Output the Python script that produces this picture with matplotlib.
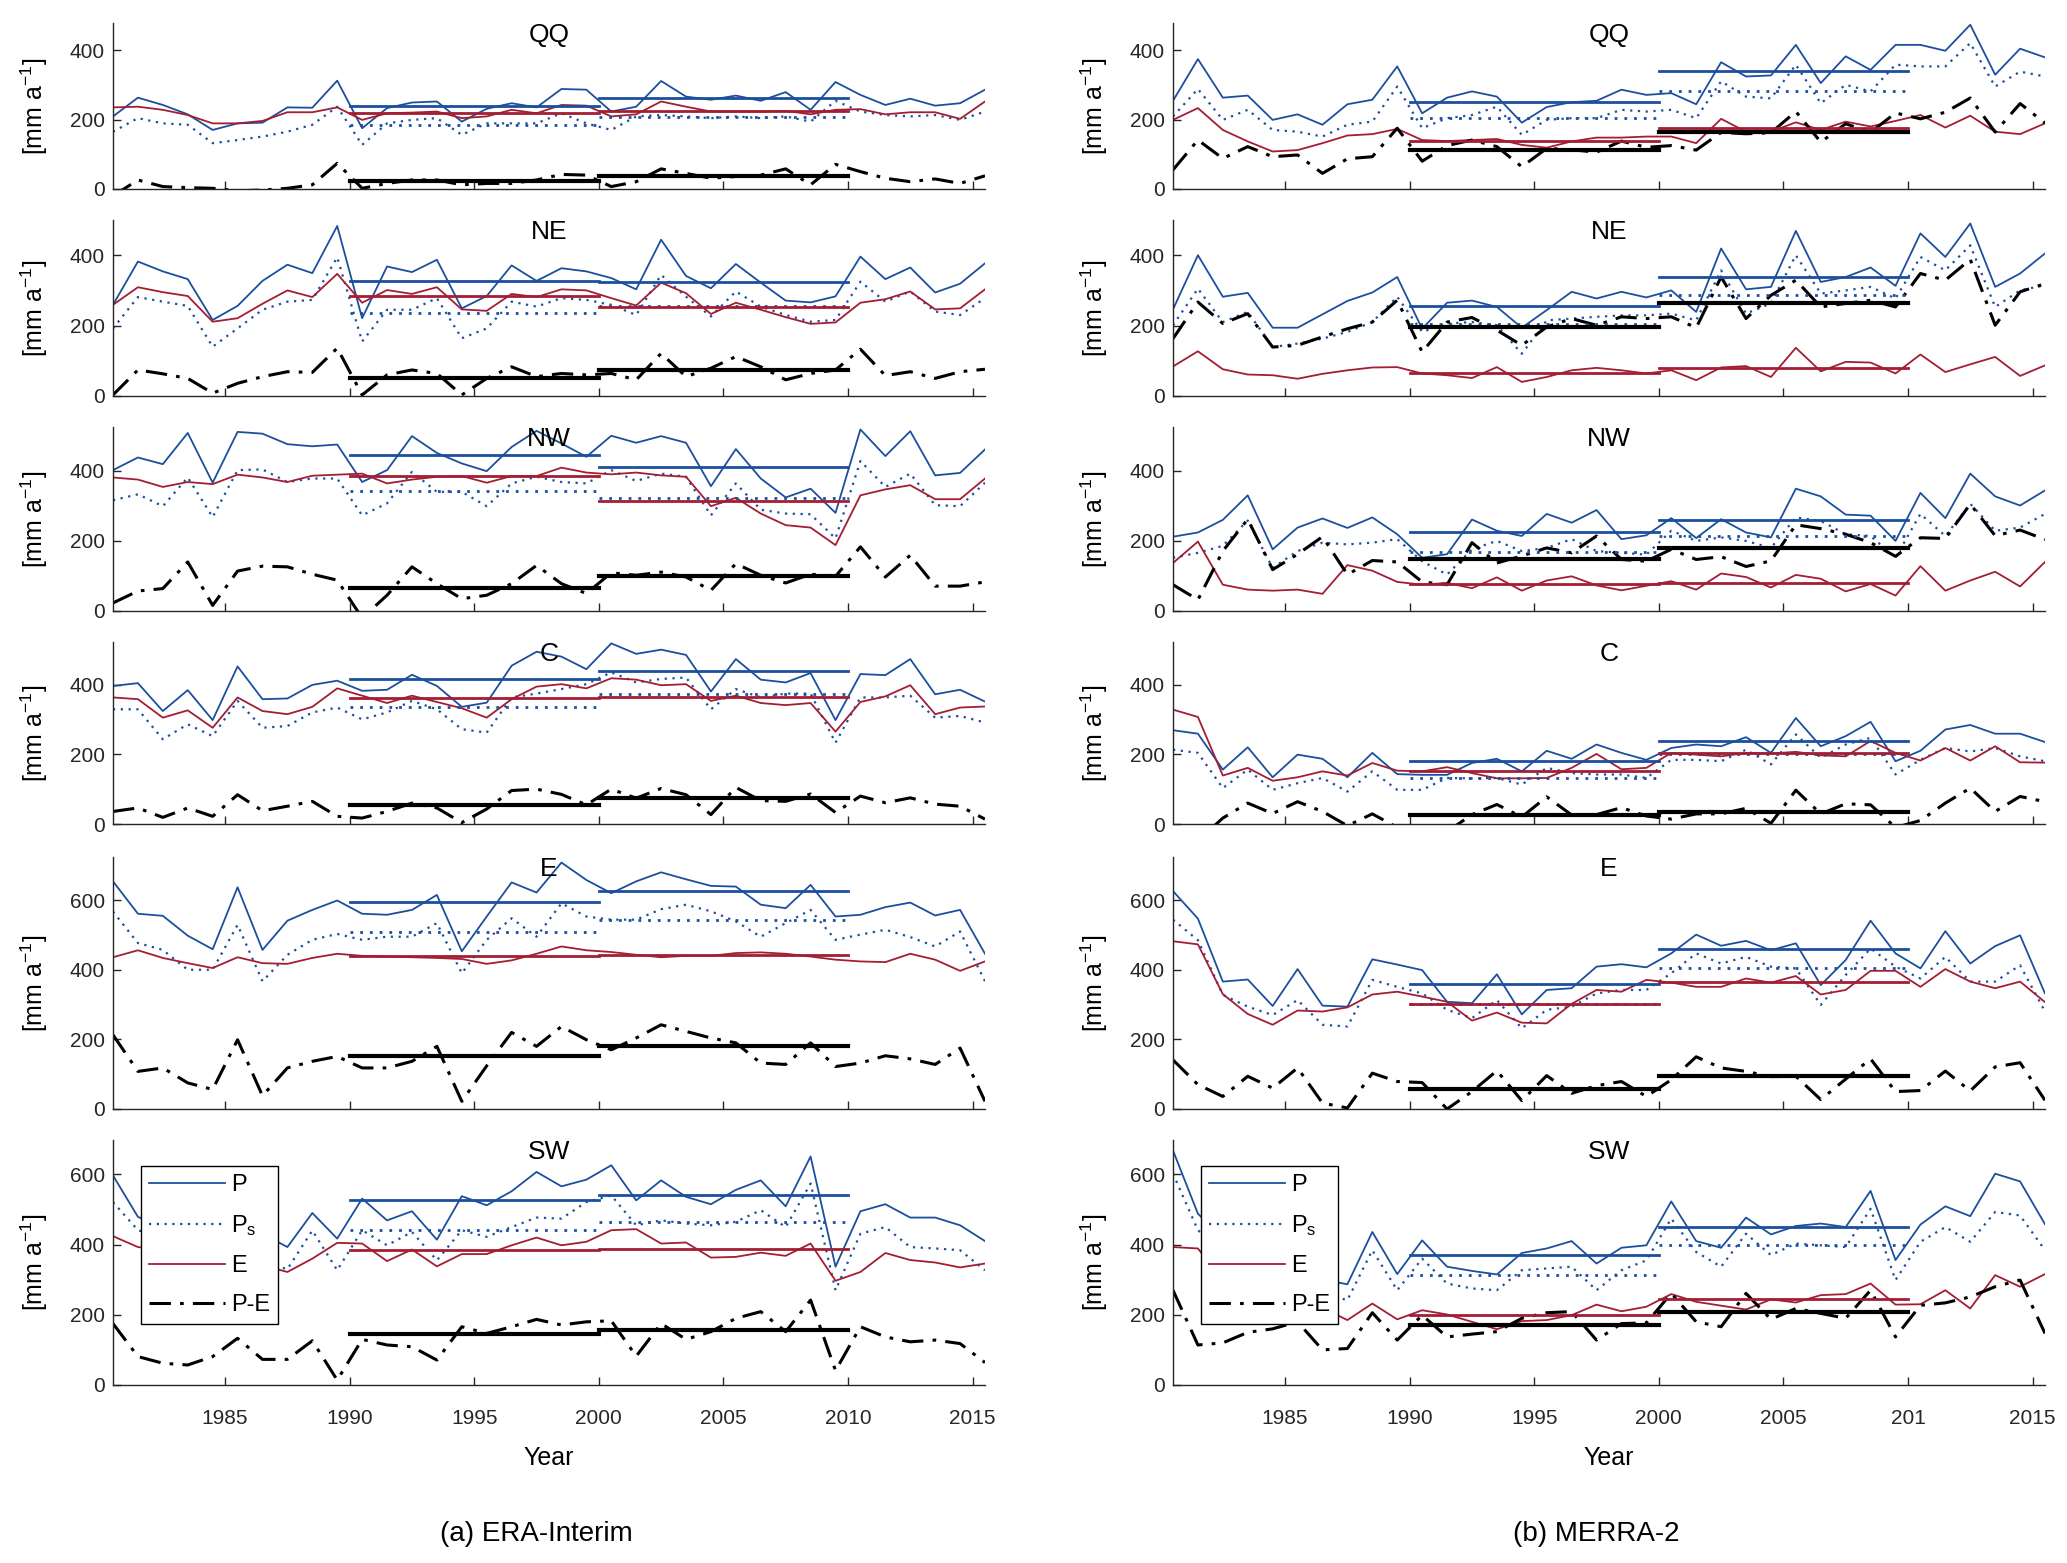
import numpy as np
import matplotlib.pyplot as plt

plt.rcParams['font.family'] = ['Liberation Sans', 'DejaVu Sans']
plt.rcParams['mathtext.default'] = 'regular'

YEARS = np.arange(1980, 2016)
REGIONS = ['QQ', 'NE', 'NW', 'C', 'E', 'SW']
Y_TOP = [478, 500, 525, 522, 724, 698]
X_TICKS = [1985, 1990, 1995, 2000, 2005, 2010, 2015]
X_LABELS_ERA = ['1985', '1990', '1995', '2000', '2005', '2010', '2015']
X_LABELS_MERRA = ['1985', '1990', '1995', '2000', '2005', '201', '2015']
PANEL_TITLES = ['(a) ERA-Interim', '(b) MERRA-2']

# ---- ERA-Interim (1980-2015), mm/a ----
ERA_QQ_P = [209, 263, 242, 215, 170, 189, 191, 235, 234, 312, 175, 233, 249, 252, 194, 231, 247, 235, 288, 286,
            223, 237, 311, 266, 257, 269, 254, 279, 228, 308, 271, 242, 260, 240, 247, 286]
ERA_QQ_PS = [165, 204, 189, 185, 132, 141, 151, 165, 185, 237, 127, 189, 199, 204, 156, 189, 189, 189, 218, 189,
             170, 209, 213, 209, 204, 209, 204, 209, 194, 254, 223, 213, 209, 213, 199, 223]
ERA_QQ_E = [235, 237, 228, 213, 189, 189, 196, 221, 221, 235, 199, 218, 220, 223, 204, 209, 228, 218, 242, 240,
            209, 215, 252, 237, 223, 223, 223, 225, 215, 228, 230, 215, 221, 221, 202, 252]
ERA_QQ_PE = [-20, 26, 7, 4, 2, -5, -3, 2, 12, 74, 2, 16, 26, 26, 12, 16, 16, 26, 42, 40,
             7, 21, 58, 45, 31, 36, 40, 58, 12, 71, 50, 31, 21, 29, 16, 38]

ERA_NE_P = [259, 382, 354, 332, 216, 256, 327, 373, 349, 483, 221, 368, 352, 387, 249, 284, 371, 327, 363, 354,
            335, 303, 444, 341, 306, 375, 322, 271, 266, 283, 396, 332, 365, 294, 319, 377]
ERA_NE_PS = [192, 281, 268, 256, 140, 192, 245, 268, 273, 394, 155, 245, 245, 278, 164, 192, 268, 254, 278, 273,
             259, 230, 344, 282, 226, 297, 254, 230, 211, 216, 325, 268, 297, 240, 230, 278]
ERA_NE_E = [259, 309, 295, 284, 211, 221, 262, 300, 281, 347, 265, 301, 290, 309, 246, 242, 290, 281, 303, 300,
            278, 257, 322, 292, 233, 265, 245, 224, 205, 209, 265, 275, 297, 246, 249, 303]
ERA_NE_PE = [3, 74, 63, 50, 8, 36, 55, 69, 67, 136, 3, 60, 74, 64, 3, 50, 83, 55, 64, 60,
             64, 46, 121, 55, 79, 112, 83, 46, 64, 74, 133, 58, 69, 50, 69, 76]

ERA_NW_P = [402, 438, 419, 508, 366, 511, 506, 476, 470, 475, 368, 402, 499, 451, 421, 399, 468, 514, 478, 440,
            500, 480, 499, 480, 356, 462, 378, 324, 349, 280, 518, 442, 513, 387, 394, 461]
ERA_NW_PS = [316, 333, 299, 381, 268, 402, 404, 368, 378, 378, 273, 307, 397, 340, 340, 299, 364, 383, 368, 364,
             402, 371, 392, 383, 273, 364, 289, 278, 276, 207, 428, 354, 392, 302, 299, 366]
ERA_NW_E = [381, 375, 354, 368, 362, 389, 381, 368, 386, 389, 392, 364, 375, 383, 385, 366, 385, 385, 409, 395,
            390, 395, 387, 383, 299, 323, 278, 245, 238, 188, 330, 347, 359, 319, 319, 378]
ERA_NW_PE = [23, 57, 64, 140, 16, 114, 128, 126, 105, 88, -20, 45, 126, 78, 35, 45, 78, 130, 78, 50,
             109, 102, 111, 97, 59, 135, 102, 80, 105, 99, 183, 97, 159, 71, 71, 83]

ERA_C_P = [396, 404, 324, 384, 298, 452, 358, 360, 399, 411, 382, 385, 428, 396, 336, 348, 454, 494, 480, 444,
           518, 488, 500, 485, 380, 473, 414, 406, 433, 298, 430, 427, 473, 372, 385, 351]
ERA_C_PS = [329, 329, 243, 286, 252, 353, 276, 281, 320, 334, 300, 320, 353, 329, 272, 262, 363, 374, 387, 401,
            435, 406, 416, 420, 329, 387, 363, 374, 374, 233, 363, 363, 368, 305, 310, 291]
ERA_C_E = [363, 358, 305, 326, 276, 363, 324, 315, 336, 389, 368, 347, 368, 350, 332, 305, 358, 394, 401, 389,
           418, 414, 398, 401, 353, 368, 347, 341, 347, 265, 350, 366, 398, 315, 334, 337]
ERA_C_PE = [36, 46, 19, 46, 22, 84, 38, 51, 65, 22, 17, 36, 60, 46, 4, 43, 96, 100, 85, 55,
            100, 74, 102, 84, 27, 105, 67, 65, 86, 33, 80, 61, 75, 57, 51, 14]

ERA_E_P = [654, 561, 555, 498, 459, 637, 457, 541, 572, 599, 561, 558, 572, 615, 453, 553, 651, 622, 708, 658,
           620, 654, 680, 660, 641, 639, 587, 577, 644, 553, 558, 580, 593, 556, 572, 446]
ERA_E_PS = [567, 477, 457, 400, 400, 529, 367, 443, 486, 503, 486, 495, 495, 534, 390, 486, 548, 495, 591, 553,
            544, 544, 574, 587, 568, 539, 495, 534, 572, 486, 501, 515, 494, 467, 510, 367]
ERA_E_E = [436, 456, 434, 419, 405, 436, 419, 417, 434, 446, 440, 438, 436, 434, 431, 417, 427, 446, 467, 456,
           451, 443, 436, 440, 440, 448, 450, 446, 438, 429, 424, 422, 446, 429, 397, 424]
ERA_E_PE = [213, 108, 118, 75, 56, 199, 38, 118, 137, 151, 118, 118, 137, 180, 22, 124, 220, 180, 237, 199,
            170, 204, 242, 223, 204, 190, 132, 128, 190, 122, 132, 153, 144, 128, 175, 22]

ERA_SW_P = [597, 479, 450, 420, 470, 440, 431, 393, 490, 417, 531, 469, 495, 414, 538, 512, 552, 607, 566, 585,
            626, 526, 583, 536, 515, 556, 583, 509, 651, 337, 495, 515, 477, 477, 455, 410]
ERA_SW_PS = [521, 441, 420, 390, 420, 380, 350, 330, 440, 327, 441, 398, 436, 355, 441, 422, 450, 477, 474, 521,
             540, 455, 469, 460, 455, 465, 498, 450, 574, 270, 431, 450, 393, 389, 384, 327]
ERA_SW_E = [424, 393, 385, 375, 360, 380, 341, 322, 360, 405, 403, 353, 386, 338, 373, 373, 398, 420, 398, 408,
            441, 444, 403, 406, 363, 365, 377, 368, 403, 297, 322, 376, 356, 349, 335, 346]
ERA_SW_PE = [175, 81, 62, 57, 81, 133, 73, 73, 126, 14, 130, 114, 109, 71, 166, 147, 166, 187, 171, 180,
             183, 82, 175, 130, 152, 190, 209, 152, 242, 41, 166, 137, 123, 128, 118, 64]

# ---- MERRA-2 (1980-2015), mm/a ----
MERRA_QQ_P = [254, 374, 263, 269, 199, 215, 185, 244, 257, 353, 218, 263, 281, 266, 191, 236, 250, 254, 286, 271,
              276, 244, 365, 324, 327, 415, 305, 382, 343, 415, 415, 398, 473, 329, 404, 379]
MERRA_QQ_PS = [209, 288, 199, 228, 170, 165, 151, 185, 194, 295, 175, 204, 213, 237, 156, 199, 204, 204, 228, 223,
               228, 204, 310, 266, 261, 358, 247, 300, 281, 358, 353, 353, 420, 295, 338, 324]
MERRA_QQ_E = [199, 233, 170, 137, 108, 112, 132, 154, 158, 173, 141, 138, 141, 144, 127, 119, 137, 148, 148, 151,
              151, 132, 202, 165, 165, 192, 170, 194, 180, 196, 213, 177, 211, 165, 158, 189]
MERRA_QQ_PE = [55, 141, 88, 122, 93, 98, 45, 87, 93, 175, 80, 125, 141, 122, 64, 117, 113, 106, 138, 120,
               125, 112, 163, 159, 162, 223, 135, 188, 163, 219, 202, 221, 262, 164, 246, 190]

MERRA_NE_P = [246, 400, 282, 293, 194, 194, 232, 270, 294, 338, 191, 265, 271, 253, 194, 244, 296, 277, 296, 280,
              300, 239, 419, 303, 310, 469, 324, 338, 365, 313, 462, 395, 490, 310, 348, 405]
MERRA_NE_PS = [201, 305, 210, 239, 139, 149, 163, 182, 210, 282, 182, 206, 210, 201, 120, 215, 220, 225, 229, 229,
               234, 215, 357, 234, 263, 400, 291, 300, 310, 277, 395, 357, 428, 253, 300, 315]
MERRA_NE_E = [84, 127, 76, 61, 59, 49, 63, 73, 81, 82, 64, 59, 51, 82, 40, 54, 73, 80, 73, 64,
              73, 45, 81, 85, 54, 137, 70, 97, 95, 64, 118, 68, 90, 111, 57, 87]
MERRA_NE_PE = [163, 267, 206, 234, 139, 144, 168, 191, 210, 272, 125, 210, 223, 187, 144, 196, 220, 201, 225, 220,
               225, 194, 338, 220, 286, 329, 253, 263, 272, 253, 348, 329, 388, 201, 296, 319]

MERRA_NW_P = [212, 224, 260, 330, 176, 238, 264, 237, 267, 219, 152, 162, 261, 229, 214, 277, 252, 288, 205, 216,
              265, 208, 262, 224, 210, 349, 327, 275, 272, 200, 337, 265, 392, 327, 301, 344]
MERRA_NW_PS = [152, 166, 186, 258, 123, 171, 195, 190, 195, 205, 142, 104, 176, 200, 171, 180, 205, 171, 166, 161,
               229, 200, 210, 200, 180, 267, 257, 219, 214, 152, 277, 214, 306, 229, 238, 277]
MERRA_NW_E = [137, 198, 75, 61, 58, 61, 49, 131, 115, 83, 75, 80, 65, 96, 58, 87, 99, 73, 59, 72,
              85, 61, 107, 97, 67, 103, 92, 56, 77, 44, 128, 58, 87, 112, 70, 140]
MERRA_NW_PE = [75, 32, 171, 262, 118, 162, 212, 104, 144, 140, 83, 75, 195, 137, 157, 180, 166, 214, 147, 142,
               176, 147, 155, 127, 143, 246, 235, 219, 195, 156, 209, 207, 305, 215, 231, 204]

MERRA_C_P = [269, 259, 156, 220, 134, 199, 187, 134, 204, 143, 141, 141, 175, 187, 151, 210, 187, 228, 204, 184,
             218, 228, 223, 249, 204, 304, 223, 252, 293, 180, 210, 271, 284, 259, 259, 235]
MERRA_C_PS = [213, 204, 103, 156, 98, 117, 132, 93, 151, 98, 98, 132, 131, 132, 113, 161, 146, 142, 142, 132,
              184, 184, 180, 213, 171, 257, 190, 228, 247, 142, 184, 218, 208, 218, 194, 180]
MERRA_C_E = [328, 307, 139, 161, 124, 134, 151, 139, 175, 153, 151, 163, 146, 131, 131, 132, 161, 201, 157, 161,
             204, 199, 194, 204, 202, 207, 197, 194, 238, 204, 182, 218, 182, 223, 177, 176]
MERRA_C_PE = [-60, -48, 17, 60, 30, 64, 36, -5, 29, -10, -10, -22, 27, 56, 20, 78, 26, 27, 47, 23,
              14, 29, 29, 45, 2, 97, 29, 58, 55, -10, 10, 60, 103, 36, 79, 64]

MERRA_E_P = [626, 547, 366, 372, 296, 402, 297, 294, 430, 415, 399, 308, 304, 387, 272, 342, 347, 409, 416, 407,
             447, 501, 469, 483, 456, 476, 356, 428, 541, 447, 404, 511, 418, 468, 499, 332]
MERRA_E_PS = [544, 485, 328, 294, 270, 313, 242, 237, 371, 351, 332, 285, 261, 313, 232, 285, 294, 332, 342, 342,
              390, 447, 418, 437, 409, 404, 299, 385, 461, 409, 375, 437, 366, 366, 413, 280]
MERRA_E_E = [482, 473, 330, 273, 242, 283, 280, 292, 329, 337, 323, 308, 254, 277, 248, 246, 302, 342, 337, 371,
             363, 351, 351, 375, 363, 382, 329, 342, 397, 397, 351, 402, 366, 347, 366, 307]
MERRA_E_PE = [141, 70, 36, 94, 60, 118, 17, 3, 103, 79, 76, 0, 50, 110, 24, 96, 45, 67, 79, 36,
              84, 150, 118, 108, 93, 94, 27, 86, 144, 50, 53, 109, 52, 121, 133, 25]

MERRA_SW_P = [668, 488, 420, 370, 330, 310, 300, 287, 436, 316, 412, 337, 325, 315, 376, 389, 410, 346, 391, 398,
              523, 410, 391, 477, 429, 453, 460, 450, 553, 356, 457, 509, 481, 602, 580, 458]
MERRA_SW_PS = [602, 441, 380, 330, 290, 270, 260, 242, 384, 270, 360, 289, 275, 270, 327, 332, 337, 270, 327, 355,
               474, 379, 337, 431, 370, 403, 398, 393, 502, 299, 408, 450, 408, 493, 483, 384]
MERRA_SW_E = [393, 389, 300, 260, 240, 230, 220, 185, 232, 187, 213, 201, 180, 159, 182, 185, 199, 229, 210, 223,
              259, 237, 226, 215, 244, 235, 256, 259, 289, 229, 230, 270, 218, 313, 280, 316]
MERRA_SW_PE = [270, 114, 120, 150, 160, 180, 100, 104, 206, 128, 199, 137, 145, 152, 190, 206, 209, 128, 175, 177,
               261, 180, 166, 261, 187, 218, 204, 190, 270, 137, 227, 234, 251, 280, 299, 147]

ERA = {
    'QQ': (ERA_QQ_P, ERA_QQ_PS, ERA_QQ_E, ERA_QQ_PE),
    'NE': (ERA_NE_P, ERA_NE_PS, ERA_NE_E, ERA_NE_PE),
    'NW': (ERA_NW_P, ERA_NW_PS, ERA_NW_E, ERA_NW_PE),
    'C': (ERA_C_P, ERA_C_PS, ERA_C_E, ERA_C_PE),
    'E': (ERA_E_P, ERA_E_PS, ERA_E_E, ERA_E_PE),
    'SW': (ERA_SW_P, ERA_SW_PS, ERA_SW_E, ERA_SW_PE),
}
MERRA = {
    'QQ': (MERRA_QQ_P, MERRA_QQ_PS, MERRA_QQ_E, MERRA_QQ_PE),
    'NE': (MERRA_NE_P, MERRA_NE_PS, MERRA_NE_E, MERRA_NE_PE),
    'NW': (MERRA_NW_P, MERRA_NW_PS, MERRA_NW_E, MERRA_NW_PE),
    'C': (MERRA_C_P, MERRA_C_PS, MERRA_C_E, MERRA_C_PE),
    'E': (MERRA_E_P, MERRA_E_PS, MERRA_E_E, MERRA_E_PE),
    'SW': (MERRA_SW_P, MERRA_SW_PS, MERRA_SW_E, MERRA_SW_PE),
}

BLUE = '#1b4f9e'
RED = '#a31d33'
DOTS = (0, (1, 2.5))
DASHDOT = (0, (7, 3, 1.2, 3))

# layout in pixels of the 2067x1563 canvas
FIG_W, FIG_H = 2067, 1563
ROW_TOP = [23, 220, 427, 642, 857, 1140]
ROW_BOT = [189, 396, 611, 824, 1109, 1385]
COL_LEFT = [113, 1173]
COL_W = 872


def draw_panel(ax, region, series, ytop, last_row, xlabels):
    p, ps, e, pe = [np.asarray(s, dtype=float) for s in series]
    x = YEARS + 0.5
    lp, = ax.plot(x, p, color=BLUE, lw=1.3)
    lps, = ax.plot(x, ps, color=BLUE, lw=1.6, ls=DOTS)
    le, = ax.plot(x, e, color=RED, lw=1.3)
    lpe, = ax.plot(x, pe, color='black', lw=2.2, ls=DASHDOT)

    # decadal means 1990-1999 and 2000-2009
    for s, c, ls, lw in [(p, BLUE, '-', 2.0), (ps, BLUE, DOTS, 2.0),
                         (e, RED, '-', 2.0), (pe, 'black', '-', 3.0)]:
        for start in (1990, 2000):
            sel = (YEARS >= start) & (YEARS < start + 10)
            m = s[sel].mean()
            ax.plot([start, start + 10], [m, m], color=c, ls=ls, lw=lw)

    ax.set_xlim(1980.5, 2015.5)
    ax.set_ylim(0, ytop)
    ax.set_xticks(X_TICKS)
    if last_row:
        ax.set_xticklabels(xlabels)
        ax.set_xlabel('Year', fontsize=18, labelpad=13)
    else:
        ax.set_xticklabels([])
    ax.set_yticks([0, 200, 400, 600] if ytop > 650 else [0, 200, 400])
    ax.set_ylabel('[mm a$^{-1}$]', fontsize=18, labelpad=14)
    ax.spines['top'].set_visible(False)
    ax.spines['right'].set_visible(False)
    for sp in ('left', 'bottom'):
        ax.spines[sp].set_color('#262626')
        ax.spines[sp].set_linewidth(1.0)
    ax.tick_params(direction='in', length=6, width=1, labelsize=15, colors='#262626')
    ax.tick_params(axis='x', pad=17)
    ax.tick_params(axis='y', pad=6)
    ax.text(0.5, 1.0, region, transform=ax.transAxes, ha='center', va='top', fontsize=19)

    if region == 'SW':
        leg = ax.legend([lp, lps, le, lpe], ['P', 'P$_s$', 'E', 'P-E'],
                        loc='upper left', bbox_to_anchor=(0.032, 0.895), borderaxespad=0,
                        fontsize=17, fancybox=False, framealpha=1, edgecolor='black',
                        handlelength=3.2, handletextpad=0.25, labelspacing=0.72, borderpad=0.35)
        leg.get_frame().set_linewidth(1.0)


fig = plt.figure(figsize=(FIG_W / 100, FIG_H / 100), dpi=100)

for col, (data, xlabels) in enumerate([(ERA, X_LABELS_ERA), (MERRA, X_LABELS_MERRA)]):
    for row, region in enumerate(REGIONS):
        left = COL_LEFT[col] / FIG_W
        bottom = 1 - ROW_BOT[row] / FIG_H
        height = (ROW_BOT[row] - ROW_TOP[row]) / FIG_H
        ax = fig.add_axes([left, bottom, COL_W / FIG_W, height])
        draw_panel(ax, region, data[region], Y_TOP[row], row == len(REGIONS) - 1, xlabels)
    cx = (COL_LEFT[col] + COL_W / 2) / FIG_W
    fig.text(cx - 0.006, 1 - 1534 / FIG_H, PANEL_TITLES[col], ha='center', va='center', fontsize=20)

fig.savefig('out.png', dpi=100)
